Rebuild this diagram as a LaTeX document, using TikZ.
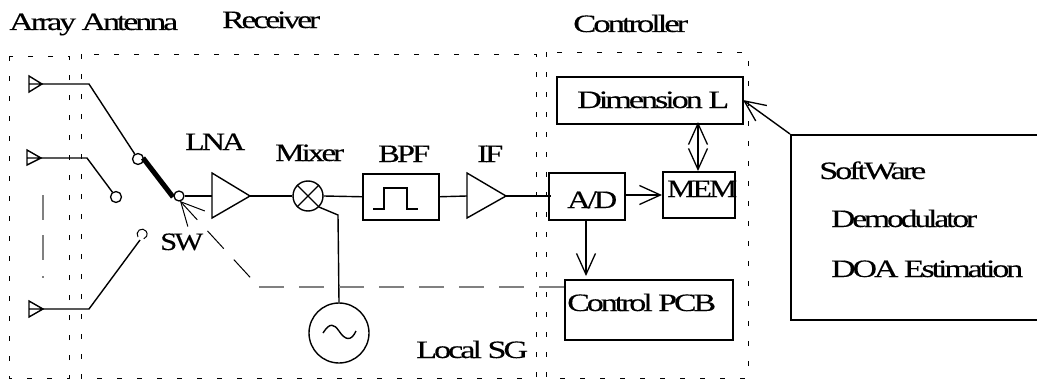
\documentclass[tikz,border=0pt]{standalone}
\usepackage{fontspec}
\usepackage{graphicx}
\setmainfont[LetterSpace=-9,FakeBold=0.2]{Liberation Serif}
\usetikzlibrary{arrows.meta}
\tikzset{
  ln/.style={draw=black,line width=1.4pt,line join=miter},
  dotbox/.style={draw=black,line width=1pt,dash pattern=on 5pt off 15pt},
  blk/.style={draw=black,line width=1.5pt,fill=none,inner sep=0pt,anchor=north west},
  pin/.style={draw=black,line width=1.3pt,circle,inner sep=0pt,fill=white},
  lbl/.style={anchor=base west,inner sep=0pt,font=\fontsize{25}{25}\selectfont},
  big/.style={-{Straight Barb[length=21pt,width=19pt,line width=1.3pt]}},
  bigboth/.style={{Straight Barb[length=21pt,width=19pt,line width=1.3pt]}-{Straight Barb[length=21pt,width=19pt,line width=1.3pt]}}
}
\newcommand{\wtext}[2]{\resizebox{#1pt}{\height}{#2}}
\begin{document}
\begin{tikzpicture}[x=1pt,y=-1pt]
\useasboundingbox (0,0) rectangle (1037,380);
% dotted frames
\draw[dotbox] (9,56) rectangle (69,378);
\draw[dotbox] (81,54) rectangle (536,378);
\draw[dotbox] (546,52) rectangle (748,378);
% section titles
\node[lbl] (tarray) at (9,30) {\wtext{169}{Array Antenna}};
\node[lbl] (trecv) at (222,28) {\wtext{98}{Receiver}};
\node[lbl] (tctrl) at (573,32) {\wtext{115}{Controller}};
% antennas
\coordinate (a1) at (42,84); \coordinate (a2) at (41,158); \coordinate (a3) at (43,309);
\draw[ln] (29,76) -- (a1) -- (29,92) -- cycle (29,84) -- (a1);
\draw[ln] (27,150) -- (a2) -- (27,165) -- cycle (27,158) -- (a2);
\draw[ln] (29,301) -- (a3) -- (29,317) -- cycle (29,309) -- (a3);
% switch pins
\node[pin,minimum size=11pt] (p1) at (138,159) {};
\node[pin,minimum size=11pt] (p2) at (116,197) {};
\node[pin,minimum size=10pt] (pc) at (179,196) {};
\coordinate (p3) at (141,233);
\draw[line width=1pt] (138,237) arc[start angle=215,end angle=-70,radius=5pt];
\draw[ln] (a1) -- (89,84) -- (p1);
\draw[ln] (a2) -- (87,158) -- (p2);
\draw[ln] (a3) -- (89,309) -- (140,240);
\draw[line width=5pt] (143,158) -- (173,197);
% gray vertical ellipsis
\draw[draw=gray,line width=1.2pt] (43,195) -- (43,220) (43,235) -- (43,260) (43,276) -- (43,278);
% amp LNA
\coordinate (lnaw) at (212,196); \coordinate (lnae) at (250,196);
\draw[ln] (212,173) -- (lnae) -- (212,218) -- cycle;
\draw[ln] (pc) -- (lnaw);
% mixer
\node[draw=black,line width=1.4pt,circle,minimum size=30pt,inner sep=0pt] (mix) at (308,196) {};
\draw[ln] (mix.45) -- (mix.225) (mix.135) -- (mix.315);
\draw[ln] (lnae) -- (mix);
% BPF
\node[blk,minimum width=76pt,minimum height=46pt] (bpf) at (362,173) {};
\draw[ln] (373,209) -- (384,209) -- (384,188) -- (407,188) -- (407,209) -- (418,209);
\draw[ln] (mix.east) -- (bpf.west);
% IF amp
\coordinate (ifw) at (467,196); \coordinate (ife) at (506,196);
\draw[ln] (467,173) -- (ife) -- (467,218) -- cycle;
\draw[ln] (bpf.east) -- (ifw);
% local oscillator
\node[draw=black,line width=1.4pt,circle,minimum size=60pt,inner sep=0pt] (lo) at (339,333) {};
\draw[ln] (mix.315) -- (338,215) -- (lo.north);
\draw[ln] (323,333) .. controls (330,322) and (334,324) .. (339,331) .. controls (345,340) and (351,342) .. (356,331);
% controller blocks
\node[blk,minimum width=186pt,minimum height=47pt] (dim) at (556,76) {};
\node[blk,minimum width=76pt,minimum height=47pt] (ad) at (548,172) {};
\node[blk,minimum width=72pt,minimum height=46pt] (mem) at (662,171) {};
\node[blk,minimum width=168pt,minimum height=60pt] (pcb) at (564,279) {};
\node[blk,minimum width=250pt,minimum height=185pt] (soft) at (790,134) {};
\coordinate (adin) at (551,196);
\draw[ln] (ife) -- (adin);
\draw[ln,big] (624,195) -- (mem.west |- 0,195);
\draw[ln,big] (586,219) -- (586,276);
\draw[ln,bigboth] (698,122) -- (698,171);
\draw[ln,big] (soft.north west) -- (743,100);
% control dashed line
\coordinate (corner) at (259,287);
\draw[line width=1pt,{Straight Barb[length=23pt,width=23pt,line width=1pt]}-,dash pattern=on 24pt off 15pt] (180,201) -- (corner);
\draw[draw=gray,line width=1.4pt,dash pattern=on 25pt off 15pt] (corner) -- (pcb.west |- 0,287);
% labels
\node[lbl] (tlna) at (185,150) {\wtext{60}{LNA}};
\node[lbl] (tmix) at (275,161) {\wtext{69}{Mixer}};
\node[lbl] (tbpf) at (378,162) {\wtext{52}{BPF}};
\node[lbl] (tif) at (477,162) {\wtext{26}{IF}};
\node[lbl] (tsg) at (416,358) {\wtext{112}{Local SG}};
\node[lbl] (tsw) at (160,250) {\wtext{43}{SW}};
\node[lbl] (tdim) at (577,108) {\wtext{152}{Dimension L}};
\node[lbl] (tad) at (567,208) {\wtext{50}{A/D}};
\node[lbl] (tmem) at (667,197) {\wtext{70}{MEM}};
\node[lbl] (tpcb) at (567,311) {\wtext{149}{Control PCB}};
\node[lbl] (tsoft) at (819,179) {\wtext{107}{SoftWare}};
\node[lbl] (tdem) at (831,227) {\wtext{146}{Demodulator}};
\node[lbl] (tdoa) at (831,277) {\wtext{192}{DOA Estimation}};
\end{tikzpicture}
\end{document}
